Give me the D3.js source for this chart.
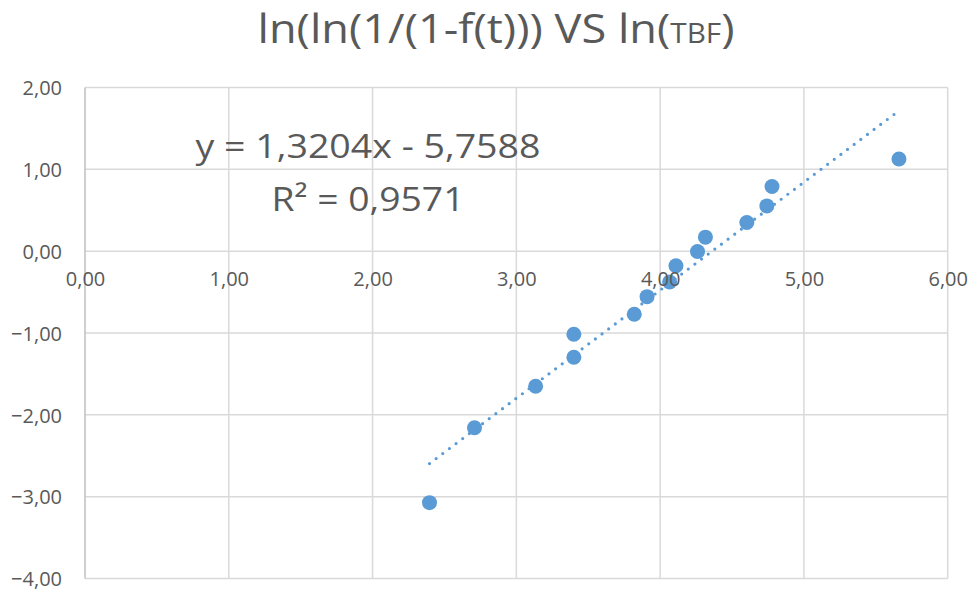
<!DOCTYPE html>
<html>
<head>
<meta charset="utf-8">
<script src="https://cdn.jsdelivr.net/npm/d3@7"></script>
<style>
  body { margin: 0; background: #fff; }
  text { font-family: "Open Sans", "Noto Sans", sans-serif; fill: #595959; }
</style>
</head>
<body>
<div id="chart"></div>
<script>
// ln(TBF) and ln(ln(1/(1-F(t))))
var lnTbf = [2.396, 2.709, 3.134, 3.400, 3.400, 3.820, 3.909, 4.066, 4.110, 4.260, 4.315, 4.603, 4.742, 4.778, 5.661];
var lnLn = [-3.073, -2.157, -1.650, -1.015, -1.297, -0.770, -0.556, -0.377, -0.178, -0.004, 0.171, 0.351, 0.553, 0.790, 1.127];
var xTicks = [0, 1, 2, 3, 4, 5, 6];
var yTicks = [2, 1, 0, -1, -2, -3, -4];
var slope = 1.3204, intercept = -5.7588, r2 = 0.9571;

var svgWidth = 973;
var svgHeight = 591;
var margin = { top: 87.5, right: 25.3, bottom: 12.5, left: 85 };
var width = svgWidth - margin.left - margin.right;
var height = svgHeight - margin.top - margin.bottom;

var fmt = function (v) { return d3.format(".2f")(v).replace(".", ","); };
function fmt4(v) { return d3.format(".4f")(v).replace(".", ","); }

var svg = d3.select("#chart")
    .append("svg")
    .attr("width", svgWidth)
    .attr("height", svgHeight);

var chart = svg.append("g")
    .attr("transform", "translate(" + margin.left + "," + margin.top + ")");

var x = d3.scaleLinear().domain([0, 6]).range([0, width]);
var y = d3.scaleLinear().domain([-4, 2]).range([height, 0]);

// gridlines
chart.append("g")
    .selectAll("line")
    .data(yTicks)
    .enter()
    .append("line")
    .attr("x1", 0).attr("x2", width)
    .attr("y1", function (d) { return y(d); })
    .attr("y2", function (d) { return y(d); })
    .attr("stroke", "#d9d9d9")
    .attr("stroke-width", 1.5);

chart.append("g")
    .selectAll("line")
    .data(xTicks.slice(1))
    .enter()
    .append("line")
    .attr("x1", function (d) { return x(d); })
    .attr("x2", function (d) { return x(d); })
    .attr("y1", 0).attr("y2", height)
    .attr("stroke", "#d9d9d9")
    .attr("stroke-width", 1.5);

// vertical axis line
chart.append("line")
    .attr("x1", x(0)).attr("x2", x(0))
    .attr("y1", 0).attr("y2", height)
    .attr("stroke", "#bfbfbf")
    .attr("stroke-width", 1.5);

// trendline over data range
var xr = d3.extent(lnTbf);
chart.append("line")
    .attr("x1", x(xr[0])).attr("y1", y(slope * xr[0] + intercept))
    .attr("x2", x(xr[1])).attr("y2", y(slope * xr[1] + intercept))
    .attr("stroke", "#5b9bd5")
    .attr("stroke-width", 3.2)
    .attr("stroke-linecap", "round")
    .attr("stroke-dasharray", "0 8.3");

// points
chart.append("g")
    .selectAll("circle")
    .data(lnTbf)
    .enter()
    .append("circle")
    .attr("cx", function (d) { return x(d); })
    .attr("cy", function (d, i) { return y(lnLn[i]); })
    .attr("r", 7.5)
    .attr("fill", "#5b9bd5");

// axes (labels only)
var xAxis = d3.axisBottom(x).tickValues(xTicks).tickFormat(fmt).tickSize(0).tickPadding(21);
var yAxis = d3.axisLeft(y).tickValues(yTicks).tickFormat(fmt).tickSize(0).tickPadding(23);

var gx = chart.append("g")
    .attr("transform", "translate(0," + y(0) + ")")
    .call(xAxis);
var gy = chart.append("g").call(yAxis);

[gx, gy].forEach(function (g) {
    g.select(".domain").remove();
    g.selectAll("text")
        .style("font-family", "'Open Sans', sans-serif")
        .style("font-size", "20px")
        .attr("fill", "#595959");
});
gy.selectAll("text").attr("dy", "0.36em");

// title
var title = svg.append("text")
    .attr("x", 496)
    .attr("y", 43)
    .attr("text-anchor", "middle")
    .style("font-size", "41px")
    .attr("textLength", 477)
    .attr("lengthAdjust", "spacingAndGlyphs");
title.append("tspan").text("ln(ln(1/(1-f(t))) VS ln(");
title.append("tspan").style("font-size", "27px").text("TBF");
title.append("tspan").text(")");

// trendline label
svg.append("text")
    .attr("x", 368)
    .attr("y", 158)
    .attr("text-anchor", "middle")
    .style("font-size", "33px")
    .attr("textLength", 345)
    .attr("lengthAdjust", "spacingAndGlyphs")
    .text("y = " + fmt4(slope) + "x - " + fmt4(-intercept));

svg.append("text")
    .attr("x", 368)
    .attr("y", 211)
    .attr("text-anchor", "middle")
    .style("font-size", "33px")
    .attr("textLength", 193)
    .attr("lengthAdjust", "spacingAndGlyphs")
    .text("R² = " + fmt4(r2));
</script>
</body>
</html>
